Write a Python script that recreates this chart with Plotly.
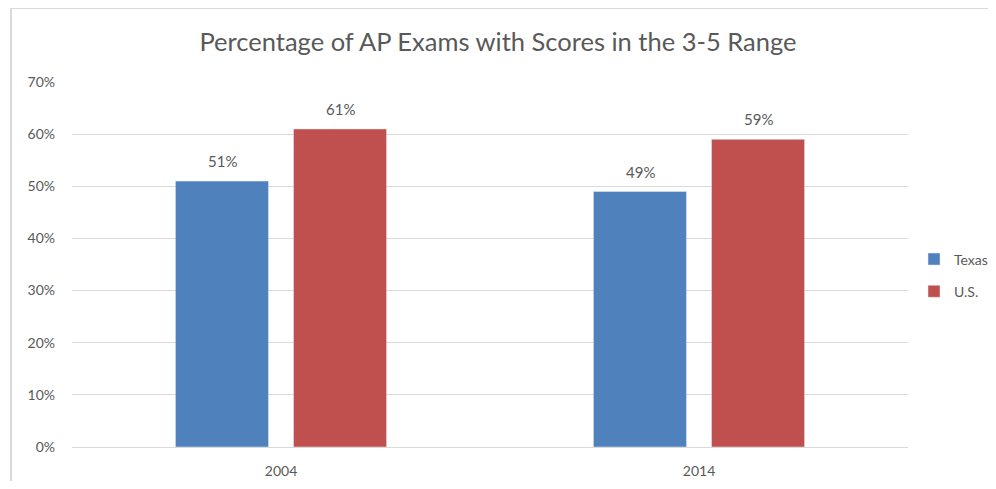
import plotly.graph_objects as go

years = ["2004", "2014"]
texas = [0.51, 0.49]
us = [0.61, 0.59]

font = "Lato, Open Sans, sans-serif"
grey = "#595959"

fig = go.Figure()
fig.add_trace(go.Bar(x=years, y=texas, name="Texas", marker_color="#4F81BD",
                     legendgroup="tx"))
fig.add_trace(go.Bar(x=years, y=us, name="U.S.", marker_color="#C0504D",
                     legendgroup="us"))

# value labels above each bar (bars sit +-59px from category centre)
for vals, shift in [(texas, -59), (us, 59)]:
    for i, v in enumerate(vals):
        fig.add_annotation(x=i, y=v, text=f"{v:.0%}", showarrow=False,
                           xshift=shift, yshift=9, yanchor="bottom",
                           font=dict(size=15, color=grey))

fig.update_layout(
    width=980, height=473,
    margin=dict(l=64, r=80, t=74, b=34),
    paper_bgcolor="white", plot_bgcolor="white",
    font=dict(family=font, color=grey, size=14),
    title=dict(text="Percentage of AP Exams with Scores in the 3-5 Range",
               x=0.5, xanchor="center", y=0.928, yanchor="middle",
               font=dict(size=25.5, color=grey)),
    barmode="group", bargap=0.435, bargroupgap=0.212,
    legend=dict(xref="container", yref="container", x=0.9245, y=0.4345,
                xanchor="left", yanchor="middle",
                font=dict(size=14, color=grey), itemwidth=30,
                tracegroupgap=11),
    showlegend=True,
)
fig.update_yaxes(range=[0, 0.7], dtick=0.1, tickformat=".0%",
                 gridcolor="#d9d9d9", zeroline=False, ticks="",
                 ticklabelstandoff=16, automargin=False)
fig.update_xaxes(type="category", showline=True, linecolor="#d9d9d9",
                 ticks="", ticklabelstandoff=11, automargin=False)

fig.add_shape(type="rect", xref="paper", yref="paper",
              x0=-0.073, x1=1.3, y0=-0.3, y1=1.2027,
              line=dict(color="#d9d9d9", width=2), layer="below")

fig.write_html("out.html")
